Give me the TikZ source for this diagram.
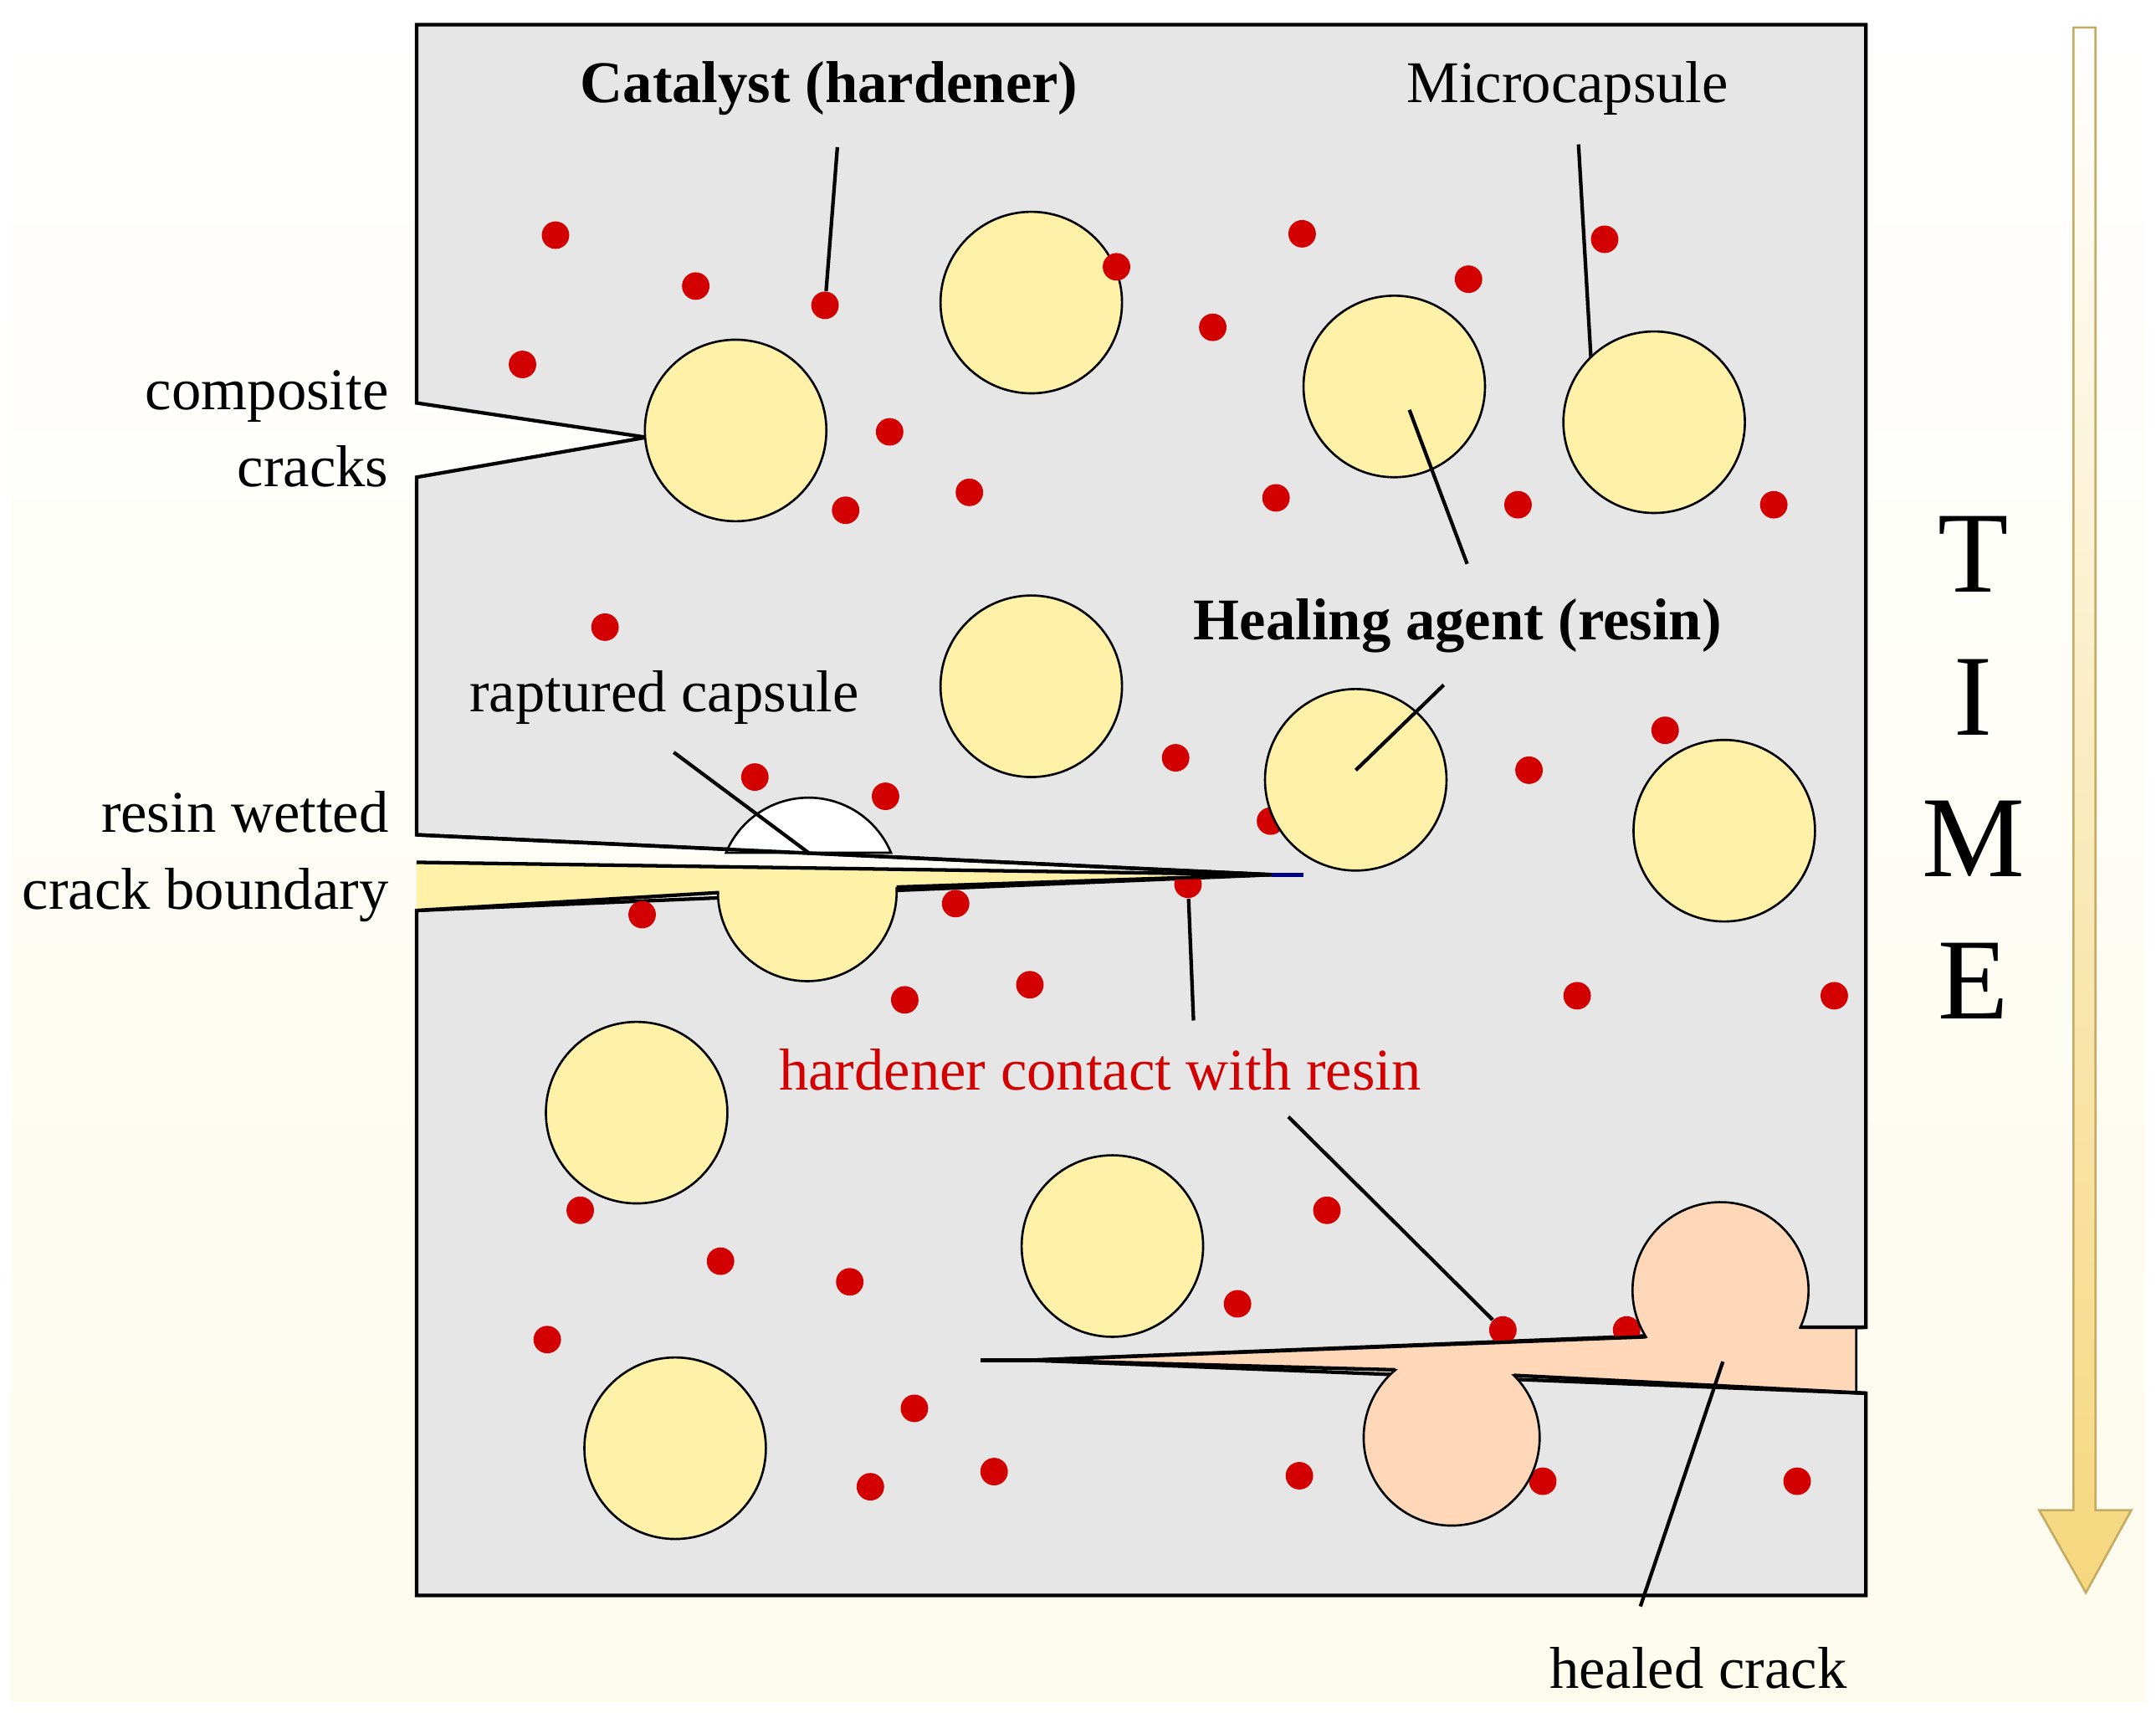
\documentclass[tikz,border=0pt]{standalone}
\usepackage{fontspec}
\setmainfont{Liberation Serif}
\begin{document}
\begin{tikzpicture}[x=0.5pt,y=-0.5pt,
  lbl/.style={font=\fontsize{21.5}{24}\selectfont, inner sep=0pt},
  blbl/.style={lbl, font=\fontsize{21.5}{24}\selectfont\bfseries},
  mcap/.style={circle, draw=black, line width=0.8pt, fill=capY, minimum size=66pt, inner sep=0pt},
  dot/.style={circle, fill=dotR, minimum size=10pt, inner sep=0pt},
  ptr/.style={line width=1.3pt},
  tl/.style={font=\fontsize{42}{44}\selectfont, inner sep=0pt}]
\definecolor{capY}{RGB}{255,242,168}
\definecolor{dotR}{RGB}{210,0,0}
\definecolor{peach}{RGB}{255,216,186}
\definecolor{matrix}{RGB}{230,230,230}
\definecolor{gold}{RGB}{245,215,125}
\useasboundingbox (0,0) rectangle (1568,1245);
\fill[top color=white,bottom color={rgb,255:red,253;green,251;blue,236}] (8,8) rectangle (1560,1237);
% matrix
\draw[fill=matrix, line width=1.3pt] (303,18) -- (1357,18) -- (1357,965) -- (750,989) -- (1357,1013) -- (1357,1160) -- (303,1160) -- (303,662) -- (925,636) -- (303,607) -- (303,347) -- (470,318) -- (303,293) -- cycle;
% dots
\foreach \p [count=\i] in {(404,171),(506,208),(600,222),(380,265),(647,314),(615,371),(705,358),(882,238),(947,170),(1068,203),(1167,174),(928,362),(1104,367),(1290,367),(440,456),(549,565),(644,579),(855,551),(924,597),(1112,560),(1211,531),(467,665),(695,657),(864,643),(658,727),(749,716),(1147,724),(1334,724),(422,880),(524,917),(618,932),(965,880),(900,948),(398,974),(665,1024),(1093,967),(1183,967),(633,1081),(723,1070),(945,1073),(1122,1077),(1307,1077)}
  \node[dot] (d\i) at \p {};
% capsules
\node[mcap] (c1) at (535,313) {};
\node[mcap] (c2) at (750,220) {};
\node[mcap] (c3) at (1014,281) {};
\node[mcap] (c4) at (1203,307) {};
\node[mcap] (c5) at (750,499) {};
\node[mcap] (c6) at (986,567) {};
\node[mcap] (c7) at (1254,604) {};
\node[mcap] (c8) at (463,809) {};
\node[mcap] (c9) at (809,906) {};
\node[mcap] (c10) at (491,1053) {};
\node[dot] (dx) at (812,194) {};
% middle crack: wetted wedge and broken capsule
\draw[fill=capY, line width=0.8pt] (303,627) -- (925,636) -- (652,645) arc (-3:181:65) -- (303,662);
\fill[capY] (303,627) -- (925,636) -- (652,645) -- (523,649) -- (303,662) -- cycle;
\draw[line width=1.3pt] (303,627) -- (925,636) -- (652,645);
\draw[line width=1.3pt] (523,649) -- (303,662);
\draw[fill=white, line width=0.8pt] (528,620) arc (202.6:337.4:65) -- cycle;
\draw[line width=1.3pt] (303,607) -- (925,636);
\draw[blue!50!black, line width=1.5pt] (925,636) -- (948,636);
% bottom healed crack
\draw[fill=peach, line width=0.8pt] (750,989) -- (1197,972) arc (148:385:64) -- (1350,965) -- (1350,1013) -- (1101,1000) arc (-45:230:64) -- cycle;
\draw[line width=1.3pt] (750,989) -- (1197,972) (1309,965) -- (1357,965) (1357,1013) -- (1101,1000) (1015,996) -- (750,989);
\draw[line width=1.3pt] (713,989) -- (750,989);
\coordinate (tip) at (713,989);
% labels
\node[blbl] (cat) at (603,64) {Catalyst (hardener)};
\node[lbl] (mic) at (1140,64) {Microcapsule};
\node[blbl] (heal) at (1060,455) {Healing agent (resin)};
\node[lbl, align=right, anchor=east] (cc) at (283,312) {composite\\[4pt]cracks};
\node[lbl] (rap) at (483,507) {raptured capsule};
\node[lbl, align=right, anchor=east] (rw) at (283,623) {resin wetted\\[4pt]crack boundary};
\node[lbl, text=dotR] (hc) at (800,778) {hardener contact with resin};
\node[lbl] (hcr) at (1235,1213) {healed crack};
\coordinate (hcin) at (1253,990);
\draw[ptr] (609,107) -- (d3);
\draw[ptr] (1148,105) -- (1157,260);
\draw[ptr] (1067,410) -- (1025,298);
\draw[ptr] (1050,498) -- (986,560);
\draw[ptr] (490,547) -- (588,620);
\draw[ptr] (d24) -- (868,742);
\draw[ptr] (937,812) -- (d36);
\draw[ptr] (hcin) -- (1193,1168);
% time arrow
\draw[draw=gold!80!black, line width=0.8pt, top color=white, bottom color=gold] (1508,20) -- (1524,20) -- (1524,1098) -- (1550,1098) -- (1517,1158) -- (1483,1098) -- (1508,1098) -- cycle;
\node[tl] (T) at (1435,403) {T};
\node[tl] (I) at (1435,507) {I};
\node[tl] (M) at (1435,610) {M};
\node[tl] (E) at (1435,713) {E};
\end{tikzpicture}
\end{document}
